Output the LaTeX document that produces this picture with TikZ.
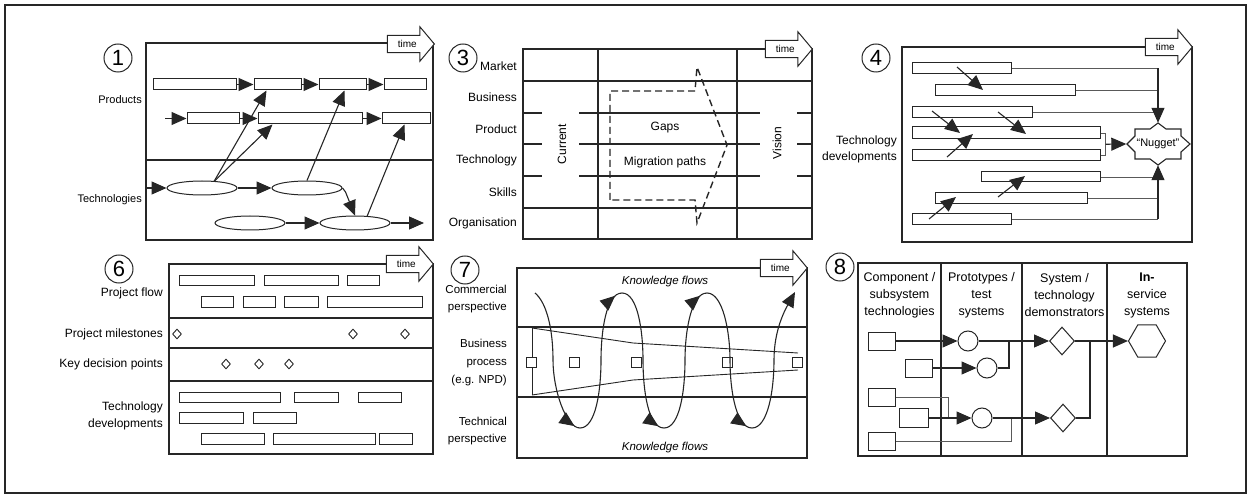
\documentclass[tikz,border=0pt]{standalone}
\usepackage{fontspec}
\setmainfont{Liberation Sans}
\usetikzlibrary{arrows.meta,shapes.geometric,shapes.arrows,calc,decorations.markings}

% white outlined bar: name, left, right, top, bottom
\newcommand\barnode[5]{%
  \node[barbox,minimum width={(#3-#2)*1pt},minimum height={(#5-#4)*1pt}]
    (#1) at ({(#2+#3)/2},{(#4+#5)/2}) {};}

\tikzset{
  panelframe/.style={line width=1.2pt, draw=black!85},
  ln/.style={line width=1.1pt, draw=black!85},
  thinln/.style={line width=0.8pt, draw=black!65},
  barbox/.style={rectangle, draw=black!85, line width=1pt, fill=white, inner sep=0pt},
  tri/.style={-{Triangle[length=15pt,width=13pt]}},
  flowtip/.style={postaction={decorate},
    decoration={markings, mark=at position #1 with {\arrow{Triangle[length=15pt,width=13pt]}}}},
  numc/.style={circle, draw=black!85, line width=1pt, minimum size=28pt, inner sep=0pt,
    font=\fontsize{22}{22}\selectfont},
  timearr/.style={single arrow, draw=black!85, line width=1pt, fill=white, anchor=tip,
    minimum height=47pt, inner xsep=2pt, inner ysep=4.5pt, single arrow head extend=8.5pt,
    single arrow tip angle=100, font=\fontsize{10}{10}\selectfont},
  labA/.style={inner sep=0pt, align=right, font=\fontsize{11}{16}\selectfont},
  labB/.style={inner sep=0pt, align=right, font=\fontsize{12}{16}\selectfont},
  labC/.style={inner sep=0pt, align=right, font=\fontsize{11.5}{17}\selectfont},
  txtB/.style={inner sep=0pt, font=\fontsize{12}{14}\selectfont},
  hdr/.style={inner sep=0pt, align=center, font=\fontsize{12.5}{17}\selectfont},
  ell/.style={ellipse, draw=black!85, line width=1pt, fill=white, minimum width=70pt,
    minimum height=14pt, inner sep=0pt},
  migr/.style={draw=black!85, line width=1.4pt, dash pattern=on 7pt off 4pt},
  smalldia/.style={diamond, draw=black!85, line width=0.9pt, fill=white, minimum width=9pt,
    minimum height=10pt, inner sep=0pt},
  sq/.style={rectangle, draw=black!85, line width=0.9pt, fill=white, minimum size=10pt, inner sep=0pt},
  rbox/.style={rectangle, draw=black!85, line width=1pt, fill=white, minimum width=27pt,
    minimum height=18pt, inner sep=0pt},
  proto/.style={circle, draw=black!85, line width=1pt, fill=white, minimum size=20pt, inner sep=0pt},
  demo/.style={diamond, draw=black!85, line width=1pt, fill=white, minimum width=25pt,
    minimum height=28pt, inner sep=0pt},
  svc/.style={regular polygon, regular polygon sides=6, draw=black!85, line width=1pt,
    fill=white, minimum size=37pt, inner sep=0pt},
}

\begin{document}
\begin{tikzpicture}[x=1pt,y=-1pt]
\useasboundingbox (0,0) rectangle (1251,497);
\draw[line width=1.4pt, draw=black!85] (5,5) rectangle (1246,493);

% ---------- 1: products and technologies
\node[numc] (n1) at (118,58) {1};
\draw[panelframe] (146,43) rectangle (433,240);
\draw[ln] (146,160) -- (433,160);
\node[timearr] (t1) at (435,44) {time};
\node[labA,anchor=east] (l1a) at (142,100) {Products};
\node[labA,anchor=east] (l1b) at (142,200) {Technologies};
\barnode{pA}{153}{236}{79}{90}
\barnode{pB}{254}{301}{79}{90}
\barnode{pC}{319}{366}{79}{90}
\barnode{pD}{384}{426}{79}{90}
\barnode{pE}{187}{239}{113}{124}
\barnode{pF}{258}{362}{113}{124}
\barnode{pG}{382}{430}{113}{124}
\node[ell] (e1) at (202,188) {};
\node[ell] (e2) at (307,188) {};
\node[ell] (e3) at (250,223) {};
\node[ell] (e4) at (355,223) {};
\coordinate (p1in) at (165,118.5);
\coordinate (t1in) at (147,188);
\coordinate (t1out) at (424,223);
\draw[ln,tri] (pA.east) -- (pB.west);
\draw[ln,tri] (pB.east) -- (pC.west);
\draw[ln,tri] (pC.east) -- (pD.west);
\draw[ln,tri] (p1in) -- (pE.west);
\draw[ln,tri] (pE.east) -- (pF.west);
\draw[ln,tri] (pF.east) -- (pG.west);
\draw[ln,tri] (t1in) -- (e1.west);
\draw[ln,tri] (e1.east) -- (e2.west);
\draw[ln,tri] (e3.east) -- (e4.west);
\draw[ln,tri] (e4.east) -- (t1out);
\draw[ln,tri] (e2.east) -- ++(3,4) -- (e4.north);
\draw[ln,tri] ($(e1.north)+(12,1)$) -- ($(pB.south west)+(13,0)$);
\draw[ln,tri] ($(e1.north)+(12,1)$) -- ($(pF.south west)+(15,0)$);
\draw[ln,tri] (e2.north) -- ($(pC.south west)+(26,0)$);
\draw[ln,tri] ($(e4.north)+(12,1)$) -- ($(pG.south west)+(23,0)$);

% ---------- 3: current state, vision and the gap between
\node[numc] (n3) at (463,58) {3};
\draw[panelframe] (523,49) rectangle (812,239);
\draw[ln] (598,49) -- (598,239);
\draw[ln] (737,49) -- (737,239);
\draw[ln] (523,81) -- (812,81);
\draw[ln] (523,208) -- (812,208);
\foreach \yy in {113,144,176}{
  \draw[ln] (523,\yy) -- (542,\yy);
  \draw[ln] (579,\yy) -- (760,\yy);
  \draw[ln] (797,\yy) -- (812,\yy);}
\node[timearr] (t3) at (813,49) {time};
\node[labB,anchor=east] (r31) at (517,66) {Market};
\node[labB,anchor=east] (r32) at (517,97) {Business};
\node[labB,anchor=east] (r33) at (517,129) {Product};
\node[labB,anchor=east] (r34) at (517,160) {Technology};
\node[labB,anchor=east] (r35) at (517,192) {Skills};
\node[labB,anchor=east] (r36) at (517,223) {Organisation};
\node[txtB,rotate=90] (cur) at (562,144) {Current};
\node[txtB,rotate=90] (vis) at (777,143) {Vision};
\draw[migr] (610,200) -- (610,91) -- (695,91) -- (697,67) -- (727,145) -- (697,223) -- (695,200) -- cycle;
\node[txtB] (gaps) at (665,128) {Gaps};
\node[txtB] (mig) at (665,162) {Migration paths};

% ---------- 4: technology developments feeding a nugget
\node[numc] (n4) at (876,58) {4};
\draw[panelframe] (902,47) rectangle (1192,242);
\node[timearr] (t4) at (1193,47) {time};
\node[labB,anchor=east] (l4) at (897,149) {Technology\\developments};
\barnode{q1}{912}{1011}{63}{74}
\barnode{q2}{935}{1075}{85}{96}
\barnode{q3}{912}{1032}{107}{118}
\barnode{q4}{912}{1100}{127}{139}
\barnode{q5}{912}{1100}{150}{161}
\barnode{q6}{981}{1100}{172}{182}
\barnode{q7}{935}{1087}{193}{204}
\barnode{q8}{912}{1011}{214}{225}
\node[minimum width=63pt, minimum height=42pt, inner sep=0pt, font=\fontsize{11}{11}\selectfont]
  (nug) at (1158,144) {“Nugget”};
\draw[ln, shift={(nug.center)}] (-31,0) -- (-23,-8) -- (-23,-15) -- (-8,-15) -- (0,-21)
  -- (8,-15) -- (23,-15) -- (23,-8) -- (32,0) -- (23,8) -- (23,15) -- (8,15) -- (0,21)
  -- (-8,15) -- (-23,15) -- (-23,8) -- cycle;
\draw[thinln] (q1.east) -- (q1.east -| nug.north);
\draw[thinln] (q2.east) -- (q2.east -| nug.north);
\draw[thinln] (q3.east) -- (q3.east -| nug.north);
\draw[ln,tri] (q1.east -| nug.north) -- (nug.north);
\draw[thinln] (q6.east) -- (q6.east -| nug.south);
\draw[thinln] (q7.east) -- (q7.east -| nug.south);
\draw[thinln] (q8.east) -- (q8.east -| nug.south);
\draw[ln,tri] (q8.east -| nug.south) -- (nug.south);
\draw[thinln] (q4.east) -- ++(5,0) |- (q5.east);
\draw[ln,tri] ($(q4.east)!0.5!(q5.east)+(5,0)$) -- (nug.west);
\draw[ln,tri] (957,67) -- (983,90);
\draw[ln,tri] (932,111) -- (960,133);
\draw[ln,tri] (998,112) -- (1026,134);
\draw[ln,tri] (947,157) -- (973,134);
\draw[ln,tri] (998,197) -- (1025,176);
\draw[ln,tri] (929,219) -- (956,197);

% ---------- 6: project flow and decision points
\node[numc] (n6) at (119,269) {6};
\draw[panelframe] (169,264) rectangle (433,454);
\draw[ln] (169,318) -- (433,318);
\draw[ln] (169,348) -- (433,348);
\draw[ln] (169,381) -- (433,381);
\node[timearr] (t6) at (434,264) {time};
\node[labB,anchor=east] (l6a) at (163,293) {Project flow};
\node[labB,anchor=east] (l6b) at (163,334) {Project milestones};
\node[labB,anchor=east] (l6c) at (163,364) {Key decision points};
\node[labB,anchor=east,font=\fontsize{12}{17}\selectfont] (l6d) at (163,416) {Technology\\developments};
\barnode{f1}{179}{254}{276}{286}
\barnode{f2}{264}{338}{276}{286}
\barnode{f3}{347}{379}{276}{286}
\barnode{f4}{201}{233}{297}{307}
\barnode{f5}{243}{275}{297}{307}
\barnode{f6}{284}{318}{297}{307}
\barnode{f7}{327}{422}{297}{307}
\node[smalldia] (ms1) at (177,334) {};
\node[smalldia] (ms2) at (353,334) {};
\node[smalldia] (ms3) at (405,334) {};
\node[smalldia] (kd1) at (226,364) {};
\node[smalldia] (kd2) at (259,364) {};
\node[smalldia] (kd3) at (289,364) {};
\barnode{g1}{179}{280}{392}{402}
\barnode{g2}{294}{338}{392}{402}
\barnode{g3}{358}{401}{392}{402}
\barnode{g4}{179}{243}{412}{423}
\barnode{g5}{253}{296}{412}{423}
\barnode{g6}{201}{264}{433}{444}
\barnode{g7}{273}{375}{433}{444}
\barnode{g8}{379}{412}{433}{444}

% ---------- 7: knowledge flows across a business process
\node[numc] (n7) at (465,270) {7};
\draw[panelframe] (517,268) rectangle (807,458);
\draw[ln] (517,327) -- (807,327);
\draw[ln] (517,397) -- (807,397);
\node[timearr] (t7) at (808,268) {time};
\node[labC,anchor=east] (l7a) at (507,299) {Commercial\\perspective};
\node[labC,anchor=east,font=\fontsize{11.5}{18}\selectfont] (l7b) at (507,363) {Business\\process\\(e.g. NPD)};
\node[labC,anchor=east] (l7c) at (507,431) {Technical\\perspective};
\node[inner sep=0pt, font=\fontsize{11.5}{13}\selectfont\itshape] (k1) at (665,282) {Knowledge flows};
\node[inner sep=0pt, font=\fontsize{11.5}{13}\selectfont\itshape] (k2) at (665,448) {Knowledge flows};
\draw[line width=0.9pt, draw=black!85] (532,328) -- (633,343) -- (798,353);
\draw[line width=0.9pt, draw=black!85] (532,395) -- (633,380) -- (798,370);
\draw[line width=0.9pt, draw=black!85] (532,328) -- (532,395);
\node[sq] (s1) at (531,362) {};
\node[sq] (s2) at (574,362) {};
\node[sq] (s3) at (636,362) {};
\node[sq] (s4) at (727,362) {};
\node[sq] (s5) at (797,362) {};
\coordinate (wS) at (535,293);
\coordinate (wB1) at (580,428);
\coordinate (wT1) at (622,293);
\coordinate (wB2) at (664,428);
\coordinate (wT2) at (707,293);
\coordinate (wB3) at (752,428);
\coordinate (wE) at (795,292);
\draw[ln, flowtip=0.96] (wS) .. controls +(12,10) and +(0,-30) .. (553,360)
  .. controls +(0,30) and +(-14,0) .. (wB1);
\draw[ln, flowtip=0.95] (wB1) .. controls +(16,0) and +(0,30) .. (601,360)
  .. controls +(0,-28) and +(-16,0) .. (wT1);
\draw[ln, flowtip=0.96] (wT1) .. controls +(16,0) and +(0,-28) .. (643,360)
  .. controls +(0,30) and +(-16,0) .. (wB2);
\draw[ln, flowtip=0.95] (wB2) .. controls +(16,0) and +(0,30) .. (685,360)
  .. controls +(0,-28) and +(-16,0) .. (wT2);
\draw[ln, flowtip=0.96] (wT2) .. controls +(16,0) and +(0,-28) .. (730,360)
  .. controls +(0,30) and +(-16,0) .. (wB3);
\draw[ln, tri] (wB3) .. controls +(16,0) and +(0,30) .. (774,360)
  .. controls +(0,-30) and +(-10,18) .. (wE);

% ---------- 8: from component technologies to in-service systems
\node[numc] (n8) at (840,267) {8};
\draw[panelframe] (858,263) rectangle (1187,456);
\draw[ln] (941,263) -- (941,456);
\draw[ln] (1022,263) -- (1022,456);
\draw[ln] (1107,263) -- (1107,456);
\node[hdr] (h1) at (899.5,295) {Component /\\subsystem\\technologies};
\node[hdr] (h2) at (981.5,295) {Prototypes /\\test\\systems};
\node[hdr] (h3) at (1064.5,295) {System /\\technology\\demonstrators};
\node[hdr] (h4) at (1147,295) {\textbf{In-}\\service\\systems};
\node[rbox] (r1) at (881.5,341) {};
\node[rbox] (r2) at (918.5,368) {};
\node[rbox] (r3) at (881.5,397) {};
\node[rbox, minimum width=29pt, minimum height=19pt] (r4) at (913.5,418) {};
\node[rbox] (r5) at (881.5,441) {};
\node[proto] (c1) at (968,341) {};
\node[proto] (c2) at (987,368) {};
\node[proto] (c3) at (982,418) {};
\node[demo] (d1) at (1062,341) {};
\node[demo] (d2) at (1063,418) {};
\node[svc] (hx) at (1147,341) {};
\coordinate (j1) at (1009,341);
\coordinate (j2) at (1090,341);
\coordinate (j3) at (948,418);
\coordinate (j4) at (1011,418);
\draw[thinln] (r3.east) -| (j3);
\draw[thinln] (r5.east) -| (j4);
\draw[ln,tri] (r1.east) -- (c1.west);
\draw[ln,tri] (r2.east) -- (c2.west);
\draw[ln,tri] (r4.east) -- (c3.west);
\draw[ln,tri] (c1.east) -- (d1.west);
\draw[ln,tri] (c3.east) -- (d2.west);
\draw[ln,tri] (d1.east) -- (hx.west);
\draw[ln] (c2.east) -| (j1);
\draw[ln] (d2.east) -| (j2);
\end{tikzpicture}
\end{document}
